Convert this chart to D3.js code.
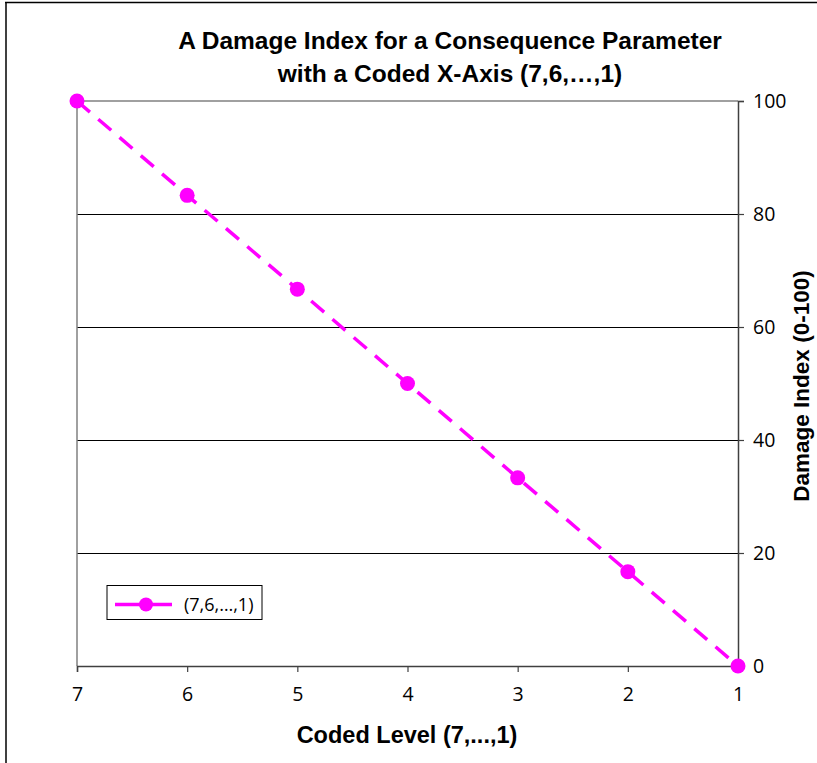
<!DOCTYPE html>
<html><head><meta charset="utf-8">
<script src="https://cdn.jsdelivr.net/npm/d3@7"></script>
<style>body{margin:0;background:#fff}svg{display:block}</style>
</head><body>
<script>
const categories = [7, 6, 5, 4, 3, 2, 1];
const values = [100, 83.3, 66.7, 50, 33.3, 16.7, 0];
const yTicks = [0, 20, 40, 60, 80, 100];
const titleLines = ["A Damage Index for a Consequence Parameter", "with a Coded X-Axis (7,6,\u2026,1)"];
const seriesName = "(7,6,\u2026,1)";
const xTitle = "Coded Level (7,...,1)";
const yTitle = "Damage Index (0-100)";

(function () {
const W = 817, H = 763;
const svg = d3.select("body").append("svg").attr("width", W).attr("height", H);
const color = "#ff00ff";
const pL = 77, pR = 738, pT = 101, pB = 666;
const boldFont = "'Liberation Sans', Arial, sans-serif";
const tickFont = "'Open Sans', sans-serif";

// outer border
svg.append("line").attr("x1", 5).attr("x2", W).attr("y1", 2.5).attr("y2", 2.5).attr("stroke", "#000").attr("stroke-width", 1.5);
svg.append("line").attr("x1", 6).attr("x2", 6).attr("y1", 2).attr("y2", H).attr("stroke", "#000").attr("stroke-width", 1.5);

const x = d3.scalePoint().domain(categories).range([pL, pR]);
const y = d3.scaleLinear().domain([0, 100]).range([pB, pT]);

// gridlines
svg.append("g").selectAll("line").data(yTicks.filter(t => t > 0 && t < 100)).join("line")
  .attr("x1", pL).attr("x2", pR).attr("y1", d => y(d) + 0.5).attr("y2", d => y(d) + 0.5)
  .attr("stroke", "#000").attr("stroke-width", 1).attr("shape-rendering", "crispEdges");
svg.append("line").attr("x1", pL).attr("x2", pR).attr("y1", y(100)).attr("y2", y(100)).attr("stroke", "#808080").attr("stroke-width", 1.5);
svg.append("line").attr("x1", pL).attr("x2", pL).attr("y1", pT).attr("y2", pB).attr("stroke", "#808080").attr("stroke-width", 1.5);

// x axis
const xAxis = svg.append("g").attr("transform", `translate(0,${pB})`)
  .attr("font-size", 19.5).attr("font-family", tickFont)
  .call(d3.axisBottom(x).tickSize(6).tickPadding(15));
xAxis.select(".domain").attr("stroke", "#404040").attr("stroke-width", 1.5);
xAxis.selectAll(".tick line").attr("stroke", "#404040").attr("stroke-width", 1.2);
xAxis.selectAll(".tick text").style("font-family", tickFont).style("font-size", "19.5px").attr("fill", "#000");

// y axis (right)
const yAxis = svg.append("g").attr("transform", `translate(${pR},0)`)
  .call(d3.axisRight(y).tickValues(yTicks).tickSize(6).tickPadding(9));
yAxis.select(".domain").attr("stroke", "#404040").attr("stroke-width", 1.5);
yAxis.selectAll(".tick line").attr("stroke", "#404040").attr("stroke-width", 1.2);
yAxis.selectAll(".tick text").style("font-family", tickFont).style("font-size", "19.5px").attr("fill", "#000");

// series line
const pts = categories.map((c, i) => [x(c), y(values[i])]);
svg.append("path").attr("d", d3.line()(pts)).attr("fill", "none")
  .attr("stroke", color).attr("stroke-width", 3.5).attr("stroke-dasharray", "17,11");
svg.append("g").selectAll("circle").data(pts).join("circle")
  .attr("cx", d => d[0]).attr("cy", d => d[1]).attr("r", 7.5).attr("fill", color);

// title
svg.append("g").selectAll("text").data(titleLines).join("text")
  .attr("x", 450).attr("y", (d, i) => 49 + i * 33).attr("text-anchor", "middle")
  .style("font-family", boldFont).style("font-weight", "bold").style("font-size", "24.5px")
  .text(d => d);

// axis titles
svg.append("text").attr("x", 407).attr("y", 743).attr("text-anchor", "middle")
  .style("font-family", boldFont).style("font-weight", "bold").style("font-size", "23.5px").text(xTitle);
svg.append("text").attr("transform", `translate(809,386) rotate(-90)`).attr("text-anchor", "middle")
  .style("font-family", boldFont).style("font-weight", "bold").style("font-size", "22.5px").text(yTitle);

// legend
const lg = svg.append("g");
lg.append("rect").attr("x", 107).attr("y", 585.5).attr("width", 155).attr("height", 34).attr("fill", "#fff").attr("stroke", "#000").attr("stroke-width", 1);
lg.append("line").attr("x1", 115).attr("x2", 172).attr("y1", 604.5).attr("y2", 604.5).attr("stroke", color).attr("stroke-width", 3.5);
lg.append("circle").attr("cx", 146).attr("cy", 604.5).attr("r", 7).attr("fill", color);
lg.append("text").attr("x", 184).attr("y", 611).style("font-family", tickFont).style("font-size", "18px").text(seriesName);
})();
</script>
</body></html>
